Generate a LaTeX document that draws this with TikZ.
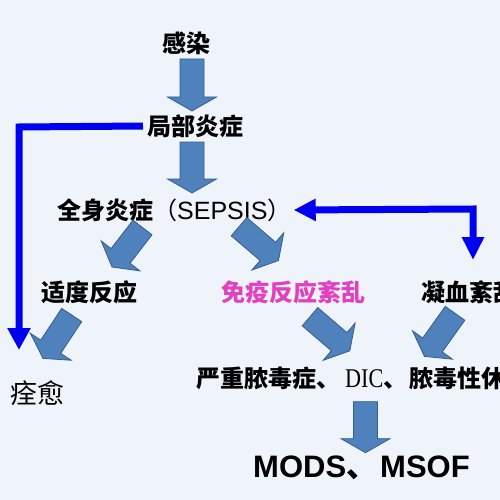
\documentclass[tikz,border=0pt]{standalone}
\usepackage{fontspec}
\newfontfamily\cjk{Noto Sans CJK SC}
\newfontfamily\lsans{Liberation Sans}
\newfontfamily\lserifn{Liberation Serif}[FakeStretch=0.82]
\usetikzlibrary{calc,arrows.meta}
\definecolor{bg}{RGB}{239,243,250}
\definecolor{fatfill}{RGB}{79,129,189}
\definecolor{fatline}{RGB}{56,93,138}
\definecolor{conblue}{RGB}{0,0,240}
\definecolor{pinktxt}{RGB}{226,64,192}
\newcommand\fatarrow[2]{%
  \coordinate (fab) at ($(#2)!14pt!(#1)$);
  \draw[fatarr] ($(#1)!12pt!90:(#2)$) -- ($(fab)!12pt!90:(#2)$) -- ($(fab)!24.5pt!90:(#2)$) -- (#2)
     -- ($(fab)!24.5pt!-90:(#2)$) -- ($(fab)!12pt!-90:(#2)$) -- ($(#1)!12pt!-90:(#2)$) -- cycle;}
\begin{document}
\begin{tikzpicture}[x=1pt,y=-1pt,
  fatarr/.style={fill=fatfill, draw=fatline, line width=0.8pt, line join=miter},
  con/.style={draw=conblue, line width=7pt, line join=miter},
  txt/.style={inner sep=0pt, anchor=west, font=\cjk\bfseries\fontsize{24pt}{28pt}\selectfont}]
\clip (0,0) rectangle (500,500);
\fill[bg] (0,0) rectangle (500,500);
% texts
\node[txt] (gr) at (162,43) {感染};
\node[txt] (jb) at (147,126) {局部炎症};
\node[txt] (qs) at (57,210) {全身炎症{\mdseries（}{\lsans\mdseries\fontsize{25pt}{28pt}\selectfont SEPSIS}{\mdseries）}};
\node[txt] (sd) at (41,292) {适度反应};
\node[txt, text=pinktxt] (my) at (221,292) {免疫反应紊乱};
\node[txt] (nx) at (421,292) {凝血紊乱};
\node[txt] (yz) at (196,378) {严重脓毒症、\hspace{5pt}{\lserifn\mdseries\fontsize{27pt}{28pt}\selectfont DIC}、\hspace{2pt}脓毒性休克};
\node[txt, font=\cjk\fontsize{27pt}{30pt}\selectfont] (qy) at (10,393) {痊愈};
\node[txt, font=\lsans\bfseries\fontsize{31pt}{34pt}\selectfont] (md) at (253,468) {MODS{\cjk、\hspace{3pt}}MSOF};
% fat arrows
\coordinate (a1s) at (192,59);      \coordinate (a1e) at (192,111);
\coordinate (a2s) at (192,142);     \coordinate (a2e) at (192,193);
\coordinate (a3s) at (142.5,227.5); \coordinate (a3e) at (112,267);
\coordinate (a4s) at (239,226.7);   \coordinate (a4e) at (278.5,260.5);
\coordinate (a5s) at (71.7,315);    \coordinate (a5e) at (43,358.4);
\coordinate (a6s) at (310,316.7);   \coordinate (a6e) at (349.8,350.8);
\coordinate (a7s) at (455,313.3);   \coordinate (a7e) at (424.4,356.4);
\coordinate (a8s) at (365.5,401.7); \coordinate (a8e) at (365.5,452.7);
\fatarrow{a1s}{a1e}
\fatarrow{a2s}{a2e}
\fatarrow{a3s}{a3e}
\fatarrow{a4s}{a4e}
\fatarrow{a5s}{a5e}
\fatarrow{a6s}{a6e}
\fatarrow{a7s}{a7e}
\fatarrow{a8s}{a8e}
% blue connectors
\coordinate (k1) at (19,127); \coordinate (k1e) at (19,350);
\draw[con, -{Triangle[length=22pt,width=22pt]}] ([xshift=-4pt]jb.west) -- (k1) -- (k1e);
\coordinate (k2) at (473,209); \coordinate (k2e) at (473,260);
\draw[con, {Triangle[length=22pt,width=21pt]}-{Triangle[length=23pt,width=21pt]}] ([xshift=2pt]qs.east) -- (k2) -- (k2e);
\end{tikzpicture}
\end{document}
